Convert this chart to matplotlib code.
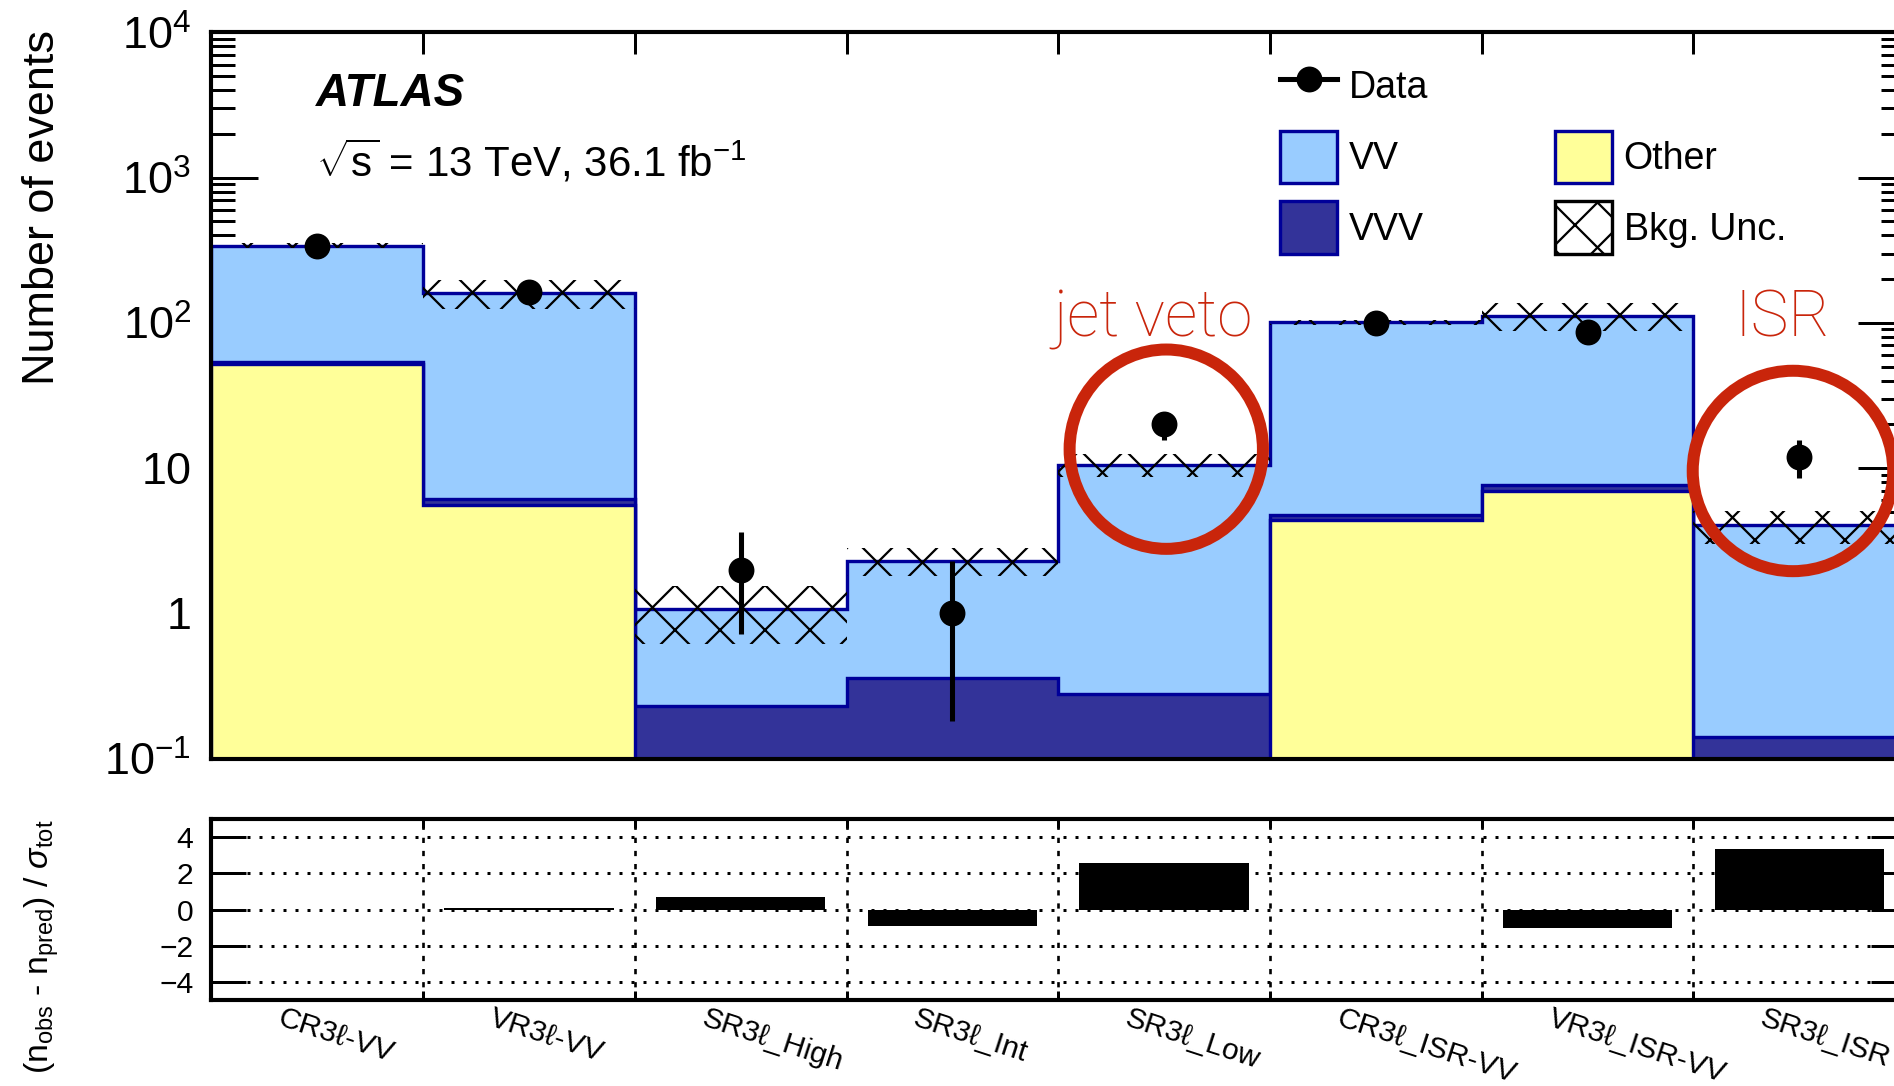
import numpy as np
import matplotlib
matplotlib.use('Agg')
import matplotlib.pyplot as plt
from matplotlib import transforms
from matplotlib.lines import Line2D
from matplotlib.patches import Ellipse, Patch
from matplotlib.ticker import FixedLocator, LogLocator, NullLocator

plt.rcParams['font.family'] = ['Liberation Sans', 'DejaVu Sans']
plt.rcParams['mathtext.fontset'] = 'custom'
plt.rcParams['mathtext.rm'] = 'Liberation Sans'
plt.rcParams['mathtext.it'] = 'Liberation Sans:italic'
plt.rcParams['mathtext.bf'] = 'Liberation Sans:bold'
plt.rcParams['hatch.linewidth'] = 0.6

regions = ['CR3ℓ-VV', 'VR3ℓ-VV', 'SR3ℓ_High', 'SR3ℓ_Int', 'SR3ℓ_Low',
           'CR3ℓ_ISR-VV', 'VR3ℓ_ISR-VV', 'SR3ℓ_ISR']

# expected background per region
other = [52, 5.6, 0, 0, 0, 4.4, 7.0, 0]
vvv = [2.0, 0.5, 0.23, 0.36, 0.28, 0.35, 0.7, 0.14]
vv = [286, 155, 0.84, 1.94, 10.3, 96.3, 104.3, 3.89]
bkg_unc = [15, 36, 0.46, 0.5, 1.85, 4, 24, 1.05]

# observed events
data = [340, 164, 2, 1, 20, 100, 86, 12]
data_err_up = [18.4, 12.8, 1.65, 1.3, 4.5, 10, 9.3, 3.5]
data_err_dn = [18.4, 12.8, 1.28, 0.82, 4.5, 10, 9.3, 3.5]

# (n_obs - n_pred) / sigma_tot
significance = [0, 0.07, 0.67, -0.88, 2.55, 0, -1.0, 3.36]

c_vv = '#99ccff'
c_vvv = '#333399'
c_other = '#ffff99'
c_edge = '#000099'
c_red = '#c9250b'

DPI = 270
fig = plt.figure(figsize=(1894.2 / DPI, 1086.2 / DPI), dpi=DPI)
ax = fig.add_axes([0.1116, 0.3015, 0.8942, 0.6685])
ax2 = fig.add_axes([0.1116, 0.0790, 0.8942, 0.1669])

edges = np.arange(len(regions) + 1)
centers = edges[:-1] + 0.5
floor = 1e-3

# stacked histograms, drawn top level first
lvl_other = np.array(other, dtype=float)
lvl_vvv = lvl_other + np.array(vvv)
lvl_total = lvl_vvv + np.array(vv)
for lvl, col in [(lvl_total, c_vv), (lvl_vvv, c_vvv), (lvl_other, c_other)]:
    ax.stairs(np.maximum(lvl, floor), edges, baseline=floor, fill=True,
              facecolor=col, edgecolor=c_edge, linewidth=0.9, zorder=2)

unc = np.array(bkg_unc)
ax.bar(centers, 2 * unc, bottom=lvl_total - unc, width=1.0, fill=False,
       hatch='xx', edgecolor='k', linewidth=0, zorder=3)

ax.errorbar(centers, data, yerr=[data_err_dn, data_err_up], fmt='o', color='k',
            ms=5.9, elinewidth=1.35, capsize=0, zorder=5)

ax.set_yscale('log')
ax.set_xlim(0, len(regions))
ax.set_ylim(0.1, 1e4)
ax.yaxis.set_major_locator(FixedLocator([0.1, 1, 10, 100, 1e3, 1e4]))
ax.yaxis.set_minor_locator(LogLocator(base=10, subs=np.arange(2, 10)))
ax.set_yticklabels([r'$10^{-1}$', '1', '10', r'$10^{2}$', r'$10^{3}$', r'$10^{4}$'])
ax.tick_params(axis='y', which='major', direction='in', length=12.5, width=0.8,
               left=True, right=True, labelsize=12, pad=5.4)
ax.tick_params(axis='y', which='minor', direction='in', length=6.4, width=0.8,
               left=True, right=True)
ax.set_xticks(edges[1:-1])
ax.xaxis.set_minor_locator(NullLocator())
ax.tick_params(axis='x', which='major', direction='in', length=5.9, width=0.8,
               top=True, bottom=True, labelbottom=False)
for sp in ax.spines.values():
    sp.set_linewidth(1.1)

# significance panel
for y in [-4, -2, 0, 2, 4]:
    ax2.axhline(y, ls=(0, (1, 3)), lw=0.8, color='k', zorder=1)
for e in edges[1:-1]:
    ax2.axvline(e, ls=(0, (2, 3)), lw=0.7, color='k', zorder=1)
ax2.bar(centers, significance, width=0.8, color='k', zorder=3)
ax2.set_xlim(0, len(regions))
ax2.set_ylim(-5, 5)
ax2.set_yticks([-4, -2, 0, 2, 4])
ax2.set_yticklabels(['\u22124', '\u22122', '0', '2', '4'])
ax2.tick_params(axis='y', direction='in', length=9.2, width=0.8, left=True,
                right=True, labelsize=8, pad=4.8)
ax2.set_xticks(edges[1:-1])
ax2.tick_params(axis='x', direction='in', length=2.4, width=0.8, top=True,
                bottom=True, labelbottom=False)
for sp in ax2.spines.values():
    sp.set_linewidth(1.1)

lbl_tr = transforms.blended_transform_factory(ax2.transData, ax2.transAxes)
for xc, name in zip(centers, regions):
    ax2.text(xc - 0.16, -0.02, name, transform=lbl_tr, rotation=-18,
             rotation_mode='anchor', ha='left', va='top', fontsize=8)

fig.text(0.0222, 0.9724, 'Number of events', rotation=90, ha='center',
         va='top', fontsize=12)
fig.text(0.0222, 0.2459,
         r'(n$_{\mathrm{obs}}$ - n$_{\mathrm{pred}}$) / $\sigma_{\mathrm{tot}}$',
         rotation=90, ha='center', va='top', fontsize=9)

fig.text(316 / 1894, 1 - 106 / 1086, 'ATLAS', fontsize=12.2,
         fontweight='bold', fontstyle='italic', va='baseline')
fig.text(316 / 1894, 1 - 176 / 1086,
         r'$\sqrt{\mathrm{s}}$ = 13 TeV, 36.1 fb$^{-1}$',
         fontsize=11.2, va='baseline')

handles = [
    Line2D([], [], color='k', marker='o', ms=5.9, lw=1.35),
    Patch(facecolor=c_vv, edgecolor=c_edge, linewidth=0.9),
    Patch(facecolor=c_vvv, edgecolor=c_edge, linewidth=0.9),
    Patch(visible=False),
    Patch(facecolor=c_other, edgecolor=c_edge, linewidth=0.9),
    Patch(fill=False, hatch='xx', edgecolor='k', linewidth=0.9),
]
labels = ['Data', 'VV', 'VVV', '', 'Other', 'Bkg. Unc.']
fig.legend(handles, labels, ncol=2, loc='upper left',
           bbox_to_anchor=(1280 / 1894, 1 - 60 / 1086), frameon=False,
           fontsize=10, handlelength=1.52, handleheight=1.76,
           handletextpad=0.32, labelspacing=0.5, columnspacing=3.36,
           borderpad=0, borderaxespad=0)

# highlighted regions
hl_tr = transforms.blended_transform_factory(ax.transData, ax.transAxes)
ax.add_patch(Ellipse((4.51, 0.426), 0.913, 0.2745, transform=hl_tr, fill=False,
                     edgecolor=c_red, linewidth=3.2, zorder=6, clip_on=False))
ax.add_patch(Ellipse((7.47, 0.396), 0.947, 0.276, transform=hl_tr, fill=False,
                     edgecolor=c_red, linewidth=3.2, zorder=6, clip_on=False))
for xt, word in [(4.445, 'jet veto'), (7.42, 'ISR')]:
    ax.text(xt, 0.582, word, transform=hl_tr, color=c_red, fontsize=17,
            family=['Roboto', 'DejaVu Sans'], fontweight='light', ha='center',
            va='baseline', zorder=6)

fig.savefig('out.png', dpi=DPI)
